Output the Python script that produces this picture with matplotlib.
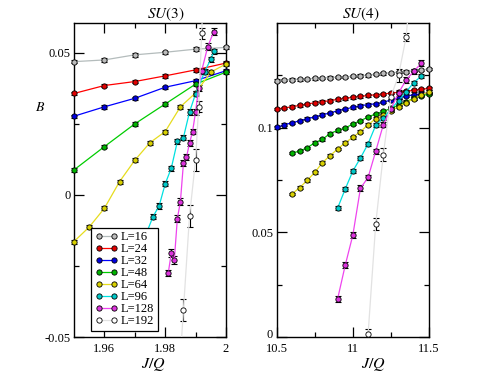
"""Binder-type ratio B versus J/Q for SU(3) and SU(4), several system sizes L."""

import matplotlib
matplotlib.use("Agg")
import matplotlib.pyplot as plt
from matplotlib.transforms import ScaledTranslation

plt.rcParams["font.family"] = ["Liberation Serif", "DejaVu Serif"]
plt.rcParams["mathtext.fontset"] = "stix"

# ---- data: SU(3) panel -------------------------------------------------
SU3_X_COARSE = [1.95, 1.96, 1.97, 1.98, 1.99, 2.0]
SU3_B_L16 = [0.0469, 0.0475, 0.0493, 0.0502, 0.0513, 0.0519]
SU3_B_L24 = [0.0357, 0.0385, 0.0399, 0.0419, 0.0440, 0.0464]
SU3_B_L32 = [0.0277, 0.0310, 0.0340, 0.0379, 0.0402, 0.0437]
SU3_B_L48 = [0.0088, 0.0170, 0.0250, 0.0320, 0.0390, 0.0432]

SU3_X_L64 = [1.95, 1.955, 1.96, 1.965, 1.97, 1.975, 1.98, 1.985, 1.99, 1.995, 2.0]
SU3_B_L64 = [-0.0164, -0.0113, -0.0047, 0.0047, 0.0122, 0.0184, 0.0223,
             0.0310, 0.0359, 0.0432, 0.0461]

SU3_X_L96 = [1.974, 1.976, 1.978, 1.98, 1.982, 1.984, 1.986, 1.988, 1.99,
             1.993, 1.995, 1.996]
SU3_B_L96 = [-0.0130, -0.0076, -0.0039, 0.0039, 0.0094, 0.0188, 0.0202,
             0.0292, 0.0356, 0.0434, 0.0478, 0.0505]

SU3_X_L128 = [1.981, 1.982, 1.983, 1.984, 1.985, 1.986, 1.987, 1.988, 1.989,
              1.990, 1.991, 1.992, 1.994, 1.996]
SU3_B_L128 = [-0.0275, -0.0205, -0.0229, -0.0083, -0.0024, 0.0112, 0.0133,
              0.0182, 0.0223, 0.0293, 0.0376, 0.0437, 0.0522, 0.0575]
SU3_E_L128 = [0.0012, 0.0015, 0.0015, 0.0012, 0.0012, 0.0010, 0.0010,
              0.0010, 0.0010, 0.0010, 0.0010, 0.0010, 0.0012, 0.0012]

SU3_X_L192 = [1.984, 1.986, 1.988, 1.990, 1.991, 1.992, 1.993]
SU3_B_L192 = [-0.0730, -0.0405, -0.0074, 0.0123, 0.0311, 0.0569, 0.0850]
SU3_E_L192 = [0.004, 0.004, 0.004, 0.004, 0.0018, 0.002, 0.002]

# ---- data: SU(4) panel -------------------------------------------------
SU4_X = [10.5, 10.55, 10.6, 10.65, 10.7, 10.75, 10.8, 10.85, 10.9, 10.95,
         11.0, 11.05, 11.1, 11.15, 11.2, 11.25, 11.3, 11.35, 11.4, 11.45, 11.5]
SU4_B_L16 = [0.1225, 0.1228, 0.1230, 0.1231, 0.1233, 0.1235, 0.1238, 0.1239,
             0.1241, 0.1242, 0.1246, 0.1248, 0.1250, 0.1256, 0.1259, 0.1262,
             0.1265, 0.1268, 0.1272, 0.1276, 0.1280]
SU4_B_L24 = [0.1089, 0.1094, 0.1100, 0.1106, 0.1113, 0.1119, 0.1124, 0.1129,
             0.1135, 0.1140, 0.1145, 0.1149, 0.1154, 0.1157, 0.1161, 0.1165,
             0.1169, 0.1174, 0.1178, 0.1183, 0.1188]
SU4_B_L32 = [0.1001, 0.1014, 0.1023, 0.1033, 0.1043, 0.1051, 0.1062, 0.1070,
             0.1081, 0.1089, 0.1097, 0.1105, 0.1110, 0.1114, 0.1122, 0.1132,
             0.1143, 0.1151, 0.1157, 0.1162, 0.1166]
# L=48 and L=64 start at J/Q = 10.6
SU4_B_L48 = [0.0879, 0.0888, 0.0904, 0.0928, 0.0944, 0.0972, 0.0987, 0.0998,
             0.1018, 0.1033, 0.1051, 0.1066, 0.1078, 0.1092, 0.1108, 0.1124,
             0.1140, 0.1152, 0.1161]
SU4_B_L64 = [0.0683, 0.0713, 0.0748, 0.0786, 0.0833, 0.0866, 0.0898, 0.0928,
             0.0954, 0.0981, 0.1014, 0.1043, 0.1059, 0.1080, 0.1100, 0.1120,
             0.1138, 0.1156, 0.1172]

SU4_X_L96 = [10.9, 10.95, 11.0, 11.05, 11.1, 11.15, 11.2, 11.25, 11.3, 11.35,
             11.4, 11.45]
SU4_B_L96 = [0.0616, 0.0707, 0.0793, 0.0855, 0.0923, 0.1011, 0.1045, 0.1090,
             0.1128, 0.1172, 0.1215, 0.1247]
SU4_B_L128 = [0.0182, 0.0343, 0.0487, 0.0711, 0.0762, 0.0887, 0.1014, 0.1090,
              0.1166, 0.1228, 0.1269, 0.1308]

SU4_X_L192 = [11.08, 11.1, 11.15, 11.2, 11.25, 11.3, 11.35, 11.37]
SU4_B_L192 = [-0.0200, 0.0013, 0.0539, 0.0871, 0.1148, 0.1250, 0.1434, 0.1600]
SU4_E_L192 = [0.003, 0.0024, 0.003, 0.003, 0.002, 0.003, 0.002, 0.002]

SIZES = [16, 24, 32, 48, 64, 96, 128, 192]
SMALL_ERR = [0.0006, 0.0006, 0.0006, 0.0006, 0.0007, 0.0009, 0.0013, 0.003]

LINE_COLORS = ["#b4bcbc", "#ff0000", "#0000ff", "#00cc00", "#e6dc1e",
               "#00e0e0", "#ee44ee", "#e2e2e2"]
FACE_COLORS = ["#bcbcbc", "#e00000", "#0000e0", "#00b400", "#d8d000",
               "#00c8c8", "#dd33dd", "#ffffff"]

FIG_W, FIG_H = 4.85, 3.74
DPI = 100


def _draw_series(ax, x, y, err, idx, clip=False):
    ax.errorbar(x, y, yerr=err, fmt="none", ecolor="black", elinewidth=0.8,
                capsize=2.4, capthick=0.8, zorder=3, clip_on=clip)
    line, = ax.plot(x, y, "-o", color=LINE_COLORS[idx], lw=0.9, ms=3.8,
                    mfc=FACE_COLORS[idx], mec="black", mew=0.6, zorder=4,
                    clip_on=clip, label=f"L={SIZES[idx]}")
    return line


def _style_axes(ax):
    ax.tick_params(which="both", direction="in", top=True, right=True,
                   labelsize=9, width=0.9)
    ax.tick_params(which="major", length=7)
    ax.tick_params(which="minor", length=3.5)
    ax.tick_params(axis="x", pad=4)
    ax.tick_params(axis="y", pad=2.5)
    for sp in ax.spines.values():
        sp.set_linewidth(1.0)


fig = plt.figure(figsize=(FIG_W, FIG_H), dpi=DPI)
ax3 = fig.add_axes([74 / 485, 37 / 374, 152 / 485, 314 / 374])
ax4 = fig.add_axes([276.7 / 485, 37 / 374, 152.3 / 485, 314 / 374])

# SU(3)
handles = []
handles.append(_draw_series(ax3, SU3_X_COARSE, SU3_B_L16, SMALL_ERR[0], 0))
handles.append(_draw_series(ax3, SU3_X_COARSE, SU3_B_L24, SMALL_ERR[1], 1))
handles.append(_draw_series(ax3, SU3_X_COARSE, SU3_B_L32, SMALL_ERR[2], 2))
handles.append(_draw_series(ax3, SU3_X_COARSE, SU3_B_L48, SMALL_ERR[3], 3))
handles.append(_draw_series(ax3, SU3_X_L64, SU3_B_L64, SMALL_ERR[4], 4))
handles.append(_draw_series(ax3, SU3_X_L96, SU3_B_L96, SMALL_ERR[5], 5))
handles.append(_draw_series(ax3, SU3_X_L128, SU3_B_L128, SU3_E_L128, 6))
handles.append(_draw_series(ax3, SU3_X_L192, SU3_B_L192, SU3_E_L192, 7,
                            clip=True))

ax3.set_xlim(1.95, 2.0)
ax3.set_ylim(-0.05, 0.0605)
ax3.set_xticks([1.96, 1.98, 2.0], labels=["1.96", "1.98", "2"])
ax3.set_xticks([1.97, 1.99], minor=True)
ax3.set_yticks([-0.05, 0.0, 0.05], labels=["-0.05", "0", "0.05"])
ax3.set_yticks([-0.025, 0.025], minor=True)
_style_axes(ax3)
ax3.text(0.605, 1.028, "$SU(3)$", transform=ax3.transAxes, ha="center",
         va="center", fontsize=11)
ax3.text(0.52, -0.088, "$J/Q$", transform=ax3.transAxes, ha="center",
         va="center", fontsize=11.5)
ax3.text(-0.224, 0.732, "$B$", transform=ax3.transAxes, ha="center",
         va="center", fontsize=10)

leg = ax3.legend(handles=handles, loc="lower left",
                 bbox_to_anchor=(0.112, 0.019), borderaxespad=0,
                 numpoints=2, fontsize=9, labelspacing=0.0,
                 handlelength=1.8, handletextpad=0.25, borderpad=0.3,
                 fancybox=False, framealpha=1.0, edgecolor="black")
leg.get_frame().set_linewidth(0.9)

# SU(4)
_draw_series(ax4, SU4_X, SU4_B_L16, SMALL_ERR[0], 0)
_draw_series(ax4, SU4_X, SU4_B_L24, SMALL_ERR[1], 1)
_draw_series(ax4, SU4_X, SU4_B_L32, SMALL_ERR[2], 2)
_draw_series(ax4, SU4_X[2:], SU4_B_L48, SMALL_ERR[3], 3)
_draw_series(ax4, SU4_X[2:], SU4_B_L64, SMALL_ERR[4], 4)
_draw_series(ax4, SU4_X_L96, SU4_B_L96, SMALL_ERR[5], 5)
_draw_series(ax4, SU4_X_L96, SU4_B_L128, SMALL_ERR[6], 6)
_draw_series(ax4, SU4_X_L192, SU4_B_L192, SU4_E_L192, 7, clip=True)

ax4.set_xlim(10.5, 11.5)
ax4.set_ylim(0, 0.15)
ax4.set_xticks([10.5, 11.0, 11.5], labels=["10.5", "11", "11.5"])
ax4.set_xticks([10.75, 11.25], minor=True)
ax4.set_yticks([0.0, 0.05, 0.1], labels=["0", "0.05", "0.1"])
ax4.set_yticks([0.025, 0.075, 0.125], minor=True)
_style_axes(ax4)
ax4.text(0.553, 1.028, "$SU(4)$", transform=ax4.transAxes, ha="center",
         va="center", fontsize=11)
ax4.text(0.634, -0.088, "$J/Q$", transform=ax4.transAxes, ha="center",
         va="center", fontsize=11.5)

# nudge the "0" label of the right panel up so it does not touch "10.5"
zero_lbl = ax4.get_yticklabels()[0]
zero_lbl.set_transform(zero_lbl.get_transform()
                       + ScaledTranslation(0, 2.5 / 72, fig.dpi_scale_trans))

fig.savefig("out.png", dpi=DPI, facecolor="white")
plt.close(fig)
